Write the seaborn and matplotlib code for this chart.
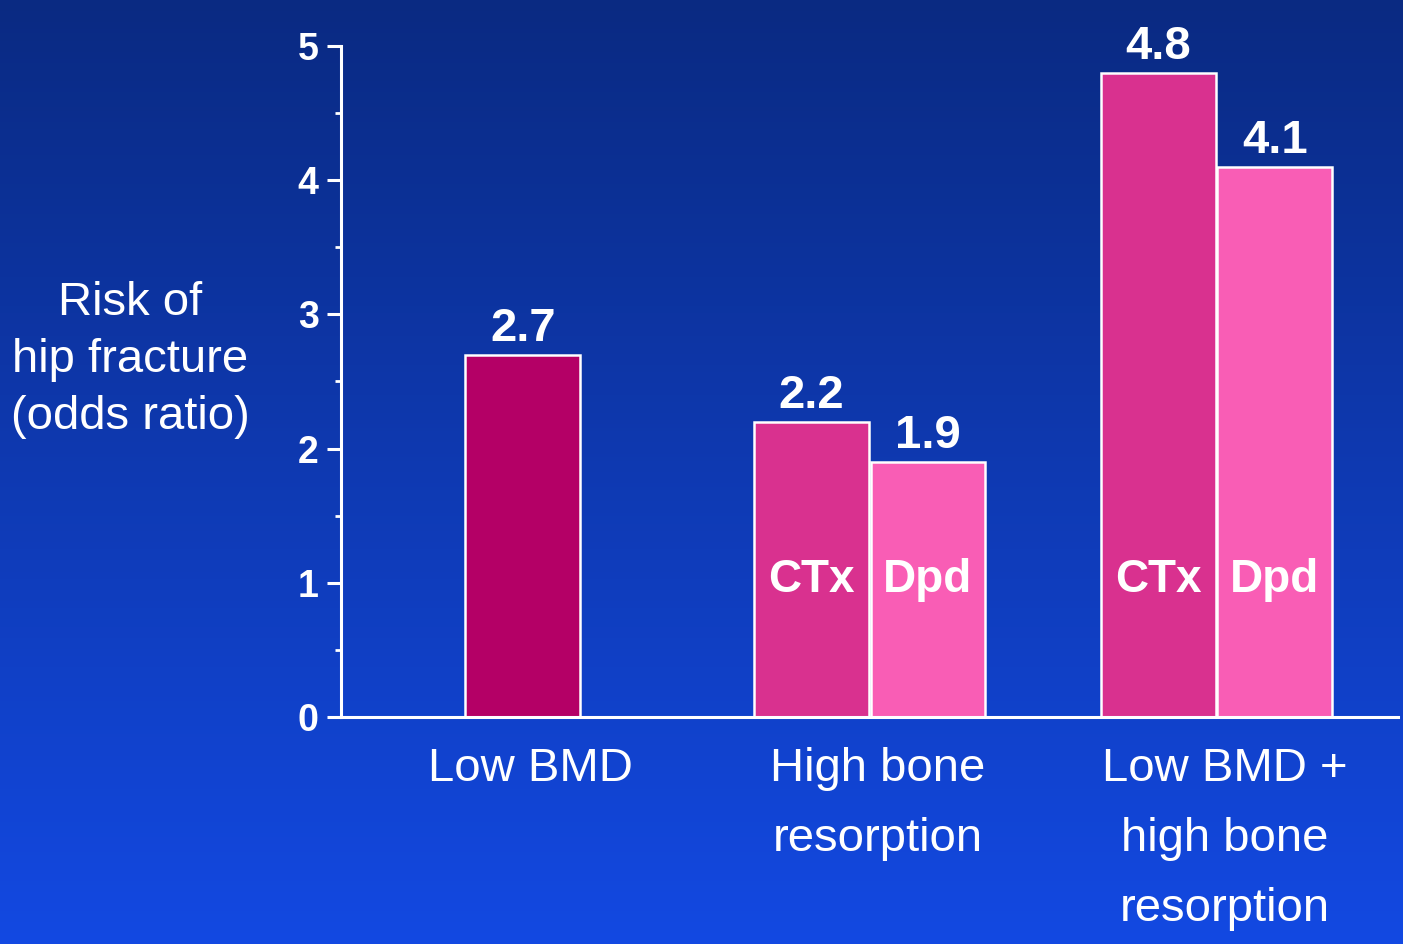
import numpy as np
import pandas as pd
import matplotlib
matplotlib.use("Agg")
import matplotlib.pyplot as plt
from matplotlib.colors import LinearSegmentedColormap
from matplotlib.ticker import MultipleLocator
from matplotlib.transforms import ScaledTranslation
import seaborn as sns

# data
groups = ["Low BMD", "High bone\nresorption", "Low BMD +\nhigh bone\nresorption"]
group_idx = [0, 1, 1, 2, 2]
series = ["Low BMD", "CTx", "Dpd", "CTx", "Dpd"]
risk = [2.7, 2.2, 1.9, 4.8, 4.1]
yticks = [0, 1, 2, 3, 4, 5]

sns.set_theme(style="white")
plt.rcParams["font.family"] = ["Liberation Sans", "DejaVu Sans"]

colors = {"Low BMD": "#b40066", "CTx": "#d9318f", "Dpd": "#f95db5"}
offset = {"Low BMD": 0.0, "CTx": -0.168, "Dpd": 0.168}
bar_w = 0.331

df = pd.DataFrame({"group": group_idx, "series": series, "risk": risk})
df["pos"] = df["group"] + df["series"].map(offset)

fig = plt.figure(figsize=(14.03, 9.44), dpi=100)

# blue gradient background
bg = fig.add_axes([0, 0, 1, 1], zorder=0)
cmap = LinearSegmentedColormap.from_list("bg", ["#0a2a82", "#1349e2"])
bg.imshow(np.linspace(0, 1, 256).reshape(-1, 1), cmap=cmap, aspect="auto",
          extent=[0, 1, 0, 1], origin="upper")
bg.axis("off")

ax = fig.add_axes([341 / 1403, 1 - 717 / 944, (1398 - 341) / 1403, (717 - 46) / 944], zorder=1)
ax.patch.set_alpha(0)

sns.barplot(data=df, x="pos", y="risk", hue="series", palette=colors, saturation=1,
            native_scale=True, dodge=False, width=bar_w / (2 * offset["Dpd"]),
            edgecolor="white", linewidth=1.8, legend=False, ax=ax)

ax.set_xlim(-0.524, 2.523)
ax.set_ylim(0, 5)
ax.set_yticks(yticks)
ax.yaxis.set_minor_locator(MultipleLocator(0.5))
ax.set_xticks(range(len(groups)))
ax.set_xticklabels(groups, linespacing=1.76)
ax.set_xlabel("")
ax.set_ylabel("")

for s in ["top", "right"]:
    ax.spines[s].set_visible(False)
for s in ["left", "bottom"]:
    ax.spines[s].set_color("white")
    ax.spines[s].set_linewidth(2.2)

ax.tick_params(axis="y", which="major", left=True, colors="white", length=10,
               width=2.2, labelsize=27, pad=6)
ax.tick_params(axis="y", which="minor", left=True, colors="white", length=4.5, width=2)
ax.tick_params(axis="x", length=0, labelcolor="white", labelsize=34, pad=21.5)
for lab in ax.get_yticklabels():
    lab.set_fontweight("bold")
# category labels sit a little right of the group centres on the slide
shift = ScaledTranslation(8 / 100, 0, fig.dpi_scale_trans)
for lab in ax.get_xticklabels():
    lab.set_transform(lab.get_transform() + shift)

# value labels above the bars, marker names inside
for _, row in df.iterrows():
    ax.annotate(f"{row['risk']:.1f}", (row["pos"], row["risk"]), xytext=(0, 10),
                textcoords="offset points", ha="center", va="baseline",
                color="white", fontsize=34, fontweight="bold")
    if row["series"] != "Low BMD":
        ax.text(row["pos"], 0.93, row["series"], ha="center", va="baseline",
                color="white", fontsize=33, fontweight="bold")

fig.text(130 / 1403, 1 - 360 / 944, "Risk of\nhip fracture\n(odds ratio)",
         ha="center", va="center", color="white", fontsize=34, linespacing=1.39)

fig.savefig("out.png", dpi=100)
